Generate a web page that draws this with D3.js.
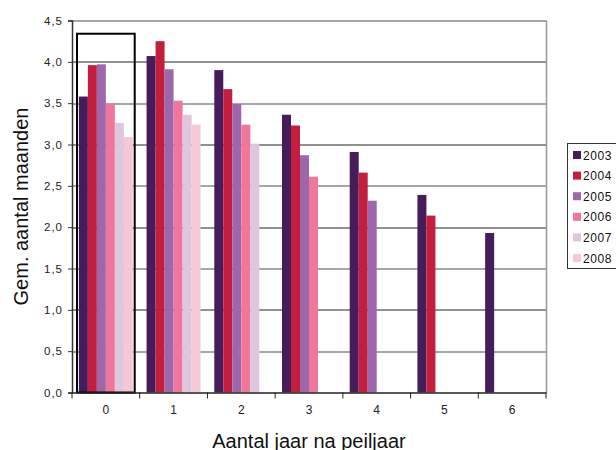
<!DOCTYPE html>
<html>
<head>
<meta charset="utf-8">
<script src="https://cdn.jsdelivr.net/npm/d3@7/dist/d3.min.js"></script>
<style>
  html, body { margin: 0; padding: 0; background: #fff; overflow: hidden; }
  svg { display: block; font-family: "Liberation Sans", Arial, sans-serif; }
</style>
</head>
<body>
<div class="contents"></div>
<script>
// chart data
var categories = ["0", "1", "2", "3", "4", "5", "6"];
var years = ["2003", "2004", "2005", "2006", "2007", "2008"];
var s2003 = [3.58, 4.07, 3.90, 3.36, 2.91, 2.39, 1.93];
var s2004 = [3.96, 4.25, 3.67, 3.23, 2.66, 2.14, null];
var s2005 = [3.97, 3.91, 3.49, 2.87, 2.32, null, null];
var s2006 = [3.49, 3.53, 3.24, 2.61, null, null, null];
var s2007 = [3.26, 3.36, 3.01, null, null, null, null];
var s2008 = [3.09, 3.24, null, null, null, null, null];
var yTicks = [0, 0.5, 1, 1.5, 2, 2.5, 3, 3.5, 4, 4.5];
var highlightTop = 4.34; // black frame round peiljaar 0

var series = [s2003, s2004, s2005, s2006, s2007, s2008];
var colors = ["#471c5b", "#c41e3f", "#9c68ab", "#f0779b", "#dfc6df", "#f7c6d7"];

var svgWidth = 616, svgHeight = 450;
var margin = { top: 20.5, right: 70, bottom: 57.5, left: 72 };
var width = svgWidth - margin.left - margin.right;
var height = svgHeight - margin.top - margin.bottom;

var svg = d3.select(".contents").append("svg")
    .attr("width", svgWidth)
    .attr("height", svgHeight);

var g = svg.append("g")
    .attr("transform", "translate(" + margin.left + "," + margin.top + ")");

var x0 = d3.scaleBand().domain(categories).range([0, width]);
var x1 = d3.scaleBand().domain(years)
    .range([6.85, x0.bandwidth() - 6.85]);
var y = d3.scaleLinear().domain([0, 4.5]).range([height, 0]);

// gridlines
g.selectAll(".grid").data(yTicks.filter(function(d) { return d > 0; }))
  .enter().append("line")
    .attr("class", "grid")
    .attr("x1", 0).attr("x2", width)
    .attr("y1", function(d) { return Math.round(y(d)) + 0.5; })
    .attr("y2", function(d) { return Math.round(y(d)) + 0.5; })
    .attr("stroke", function(d) { return d % 1 === 0 ? "#222" : "#888"; })
    .attr("stroke-width", function(d) { return d % 1 === 0 ? 1 : 1.6; });

// right border
g.append("line")
    .attr("x1", width + 0.5).attr("x2", width + 0.5)
    .attr("y1", y(4.5)).attr("y2", height)
    .attr("stroke", "#999").attr("stroke-width", 1.5);

// bars
var rows = categories.map(function(c, i) {
    return years.map(function(yr, j) {
        return { cat: c, year: yr, value: series[j][i], color: colors[j] };
    }).filter(function(d) { return d.value != null; });
});

g.selectAll(".cat").data(rows)
  .enter().append("g")
    .attr("class", "cat")
    .attr("transform", function(d, i) { return "translate(" + x0(categories[i]) + ",0)"; })
  .selectAll("rect").data(function(d) { return d; })
  .enter().append("rect")
    .attr("x", function(d) { return x1(d.year); })
    .attr("width", x1.bandwidth())
    .attr("y", function(d) { return y(d.value); })
    .attr("height", function(d) { return height - y(d.value); })
    .attr("fill", function(d) { return d.color; });

// highlight frame
g.append("rect")
    .attr("x", x0("0") + 5)
    .attr("y", y(highlightTop))
    .attr("width", x0.bandwidth() - 10)
    .attr("height", height - y(highlightTop))
    .attr("fill", "none")
    .attr("stroke", "#000")
    .attr("stroke-width", 2);

// axes
var yAxis = d3.axisLeft(y).tickValues(yTicks).tickSize(4).tickPadding(5)
    .tickFormat(function(d) { return d3.format(".1f")(d).replace(".", ","); });
var yg = g.append("g").attr("class", "y axis").call(yAxis);
yg.select(".domain").attr("stroke", "#333").attr("stroke-width", 1.5);
yg.selectAll(".tick line").attr("stroke", "#333");
yg.selectAll("text").attr("font-size", 11.5).attr("fill", "#222")
    .attr("letter-spacing", 1)
    .attr("font-family", "Liberation Sans, Arial, sans-serif");

var xAxis = d3.axisBottom(x0).tickSize(0).tickPadding(13);
var xg = g.append("g").attr("class", "x axis")
    .attr("transform", "translate(0," + height + ")")
    .call(xAxis);
xg.select(".domain").attr("stroke", "#222").attr("stroke-width", 1.5);
xg.selectAll("text").attr("font-size", 12).attr("fill", "#222")
    .attr("font-family", "Liberation Sans, Arial, sans-serif");
xg.selectAll(".sep").data(d3.range(categories.length + 1))
  .enter().append("line")
    .attr("class", "sep")
    .attr("x1", function(i) { return i * x0.step(); })
    .attr("x2", function(i) { return i * x0.step(); })
    .attr("y1", 0).attr("y2", 6)
    .attr("stroke", "#222");

// axis titles
g.append("text")
    .attr("x", width / 2)
    .attr("y", height + 55)
    .attr("text-anchor", "middle")
    .attr("font-size", 20)
    .attr("fill", "#111")
    .text("Aantal jaar na peiljaar");

svg.append("text")
    .attr("transform", "translate(28," + (margin.top + height / 2) + ") rotate(-90)")
    .attr("text-anchor", "middle")
    .attr("font-size", 20)
    .attr("fill", "#111")
    .text("Gem. aantal maanden");

// legend
var legend = svg.append("g").attr("transform", "translate(567,143)");
legend.append("rect")
    .attr("x", 0.5).attr("y", 0.5)
    .attr("width", 80).attr("height", 125)
    .attr("fill", "#fff").attr("stroke", "#333");
var item = legend.selectAll(".item").data(years)
  .enter().append("g")
    .attr("class", "item")
    .attr("transform", function(d, i) { return "translate(6," + (12 + i * 20.6) + ")"; });
item.append("rect")
    .attr("x", 0).attr("y", -4)
    .attr("width", 8).attr("height", 8)
    .attr("fill", function(d, i) { return colors[i]; });
item.append("text")
    .attr("x", 10).attr("y", 4.5)
    .attr("font-size", 12)
    .attr("letter-spacing", 0.6)
    .attr("fill", "#111")
    .text(function(d) { return d; });
</script>
</body>
</html>
